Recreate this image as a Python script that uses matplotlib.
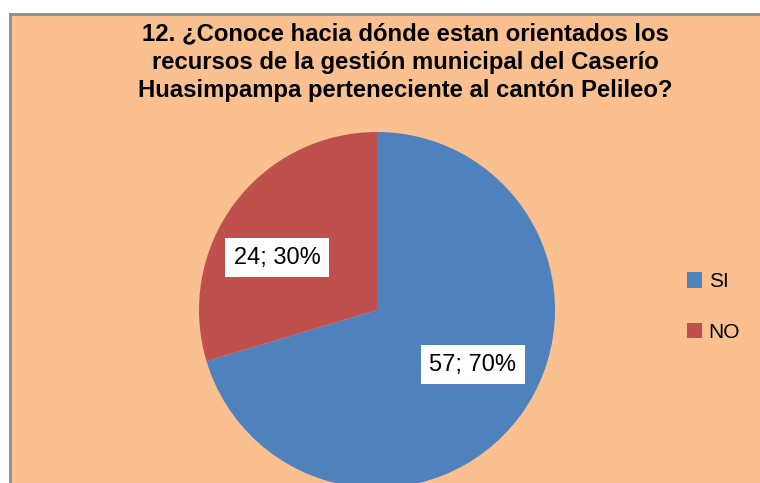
import numpy as np
import matplotlib.pyplot as plt
from matplotlib.patches import Rectangle
from matplotlib.lines import Line2D

# Data
categories = ['SI', 'NO']
counts = [57, 24]
colors = ['#4F81BD', '#C0504D']
title = ('12. ¿Conoce hacia dónde estan orientados los\n'
         'recursos de la gestión municipal del Caserío\n'
         'Huasimpampa perteneciente al cantón Pelileo?')

W, H = 760, 483
fig = plt.figure(figsize=(W / 100, H / 100), dpi=100)
fig.patch.set_facecolor('white')

# chart area background (cropped: only left and top border visible)
left_px, top_px = 10, 14
fig.patches.append(Rectangle((left_px / W, 0), 1 - left_px / W, 1 - top_px / H,
                             transform=fig.transFigure, facecolor='#FAC090',
                             edgecolor='none', zorder=-10))
fig.lines.append(Line2D([left_px / W, left_px / W], [0, 1 - top_px / H],
                        transform=fig.transFigure, color='#8C8C8C', lw=2,
                        zorder=-5))
fig.lines.append(Line2D([left_px / W, 1], [1 - top_px / H, 1 - top_px / H],
                        transform=fig.transFigure, color='#8C8C8C', lw=2,
                        zorder=-5))

fig.text(405 / W, 1 - 62 / H, title, ha='center', va='center',
         fontsize=17.2, fontweight='bold', family='Liberation Sans',
         linespacing=1.3)

# pie axes: centre (377, 310) px, radius 178 px
cx, cy, r = 377, 310, 178
ax = fig.add_axes([(cx - r) / W, (H - cy - r) / H, 2 * r / W, 2 * r / H])
ax.set_facecolor('none')
total = sum(counts)


def fmt(p):
    n = round(p * total / 100)
    return f'{n}; {p:.0f}%'


wedges, texts, autotexts = ax.pie(counts, colors=colors, startangle=90,
                                  counterclock=False, autopct=fmt,
                                  pctdistance=0.62,
                                  wedgeprops=dict(linewidth=0))

# Excel "best fit" placement: nudge each label from the wedge's mid angle
label_shift = [7, 9]  # degrees, anticlockwise
label_dist = [0.62, 0.635]
for t, w, da, d in zip(autotexts, wedges, label_shift, label_dist):
    ang = np.deg2rad((w.theta1 + w.theta2) / 2 + da)
    t.set_position((d * np.cos(ang), d * np.sin(ang)))
    t.set_fontsize(17)
    t.set_family('Liberation Sans')
    t.set_bbox(dict(facecolor='white', edgecolor='none', pad=6))
ax.set_xlim(-1, 1)
ax.set_ylim(-1, 1)
ax.set_aspect('equal')
ax.axis('off')

leg = fig.legend(wedges, categories, loc='center left',
                 bbox_to_anchor=(668 / W, 1 - 307 / H), frameon=False,
                 prop={'family': 'Liberation Sans', 'size': 15},
                 handlelength=0.75, handleheight=0.75, handletextpad=0.3,
                 labelspacing=1.5)

fig.savefig('out.png', dpi=100)
